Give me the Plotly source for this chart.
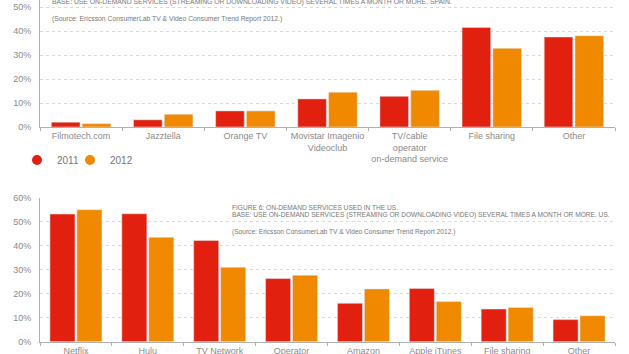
import plotly.graph_objects as go

# ---- data ----
spain_categories = ["Filmotech.com", "Jazztella", "Orange TV", "Movistar Imagenio<br>Videoclub",
                    "TV/cable<br>operator<br>on-demand service", "File sharing", "Other"]
spain_2011 = [2, 3, 6.7, 11.7, 12.8, 41.5, 37.5]
spain_2012 = [1.4, 5.3, 6.7, 14.5, 15.3, 32.8, 38]

us_categories = ["Netflix", "Hulu", "TV Network", "Operator", "Amazon", "Apple iTunes",
                 "File sharing", "Other"]
us_2011 = [53.2, 53.3, 42.2, 26.3, 16, 22.2, 13.6, 9.2]
us_2012 = [55, 43.5, 31, 27.7, 22, 16.7, 14.3, 10.8]

series_names = ["2011", "2012"]
y_ticks = [0, 10, 20, 30, 40, 50, 60]
y_tick_labels = ["0%", "10%", "20%", "30%", "40%", "50%", "60%"]

RED = "#E2200F"
ORANGE = "#F08800"
GRAY = "#8a8a8a"
FONT = "Liberation Sans"

W, H = 629, 354
ML, MR = 40, 14

fig = go.Figure()
fig.add_trace(go.Bar(x=spain_categories, y=spain_2011, marker_color=RED, name=series_names[0],
                     xaxis="x", yaxis="y", showlegend=False))
fig.add_trace(go.Bar(x=spain_categories, y=spain_2012, marker_color=ORANGE, name=series_names[1],
                     xaxis="x", yaxis="y", showlegend=False))
fig.add_trace(go.Bar(x=us_categories, y=us_2011, marker_color=RED, name=series_names[0],
                     xaxis="x2", yaxis="y2", showlegend=False))
fig.add_trace(go.Bar(x=us_categories, y=us_2012, marker_color=ORANGE, name=series_names[1],
                     xaxis="x2", yaxis="y2", showlegend=False))
# legend entries with round markers (one legend box per entry for exact placement)
for nm, c, lg in zip(series_names, [RED, ORANGE], ["legend", "legend2"]):
    fig.add_trace(go.Scatter(x=[None], y=[None], mode="markers", name=nm,
                             marker=dict(color=c, size=10, symbol="circle"),
                             xaxis="x", yaxis="y", showlegend=True, legend=lg))

def py(px):
    return 1 - px / H

def px_x(px):
    return (px - ML) / (W - ML - MR)

yaxis_common = dict(
    tickvals=y_ticks, ticktext=y_tick_labels,
    tickfont=dict(family=FONT, size=9, color=GRAY),
    showgrid=True, gridcolor="#d9d9d9", griddash="dot", gridwidth=1,
    showline=True, linecolor="#b0b0b0", linewidth=1,
    zeroline=False, ticks="", ticklabelstandoff=6, fixedrange=True,
    automargin=False,
)
xaxis_common = dict(
    tickfont=dict(family=FONT, size=9, color=GRAY),
    showline=True, linecolor="#b0b0b0", linewidth=1,
    ticks="outside", tickson="boundaries", ticklen=3, tickcolor="#b0b0b0",
    showgrid=False, zeroline=False, fixedrange=True, tickangle=0,
    automargin=False,
)

legend_common = dict(orientation="h", xref="container", y=py(160), yref="container",
                     yanchor="middle", xanchor="left",
                     font=dict(family=FONT, size=10, color="#777777"),
                     itemwidth=30, bgcolor="rgba(0,0,0,0)")

fig.update_layout(
    width=W, height=H,
    margin=dict(l=ML, r=MR, t=0, b=0, autoexpand=False),
    paper_bgcolor="white", plot_bgcolor="white",
    barmode="group", bargap=0.25, bargroupgap=0.07,
    font=dict(family=FONT, color=GRAY),
    xaxis=dict(domain=[0, 1], anchor="y", **xaxis_common),
    yaxis=dict(domain=[py(127), 1], range=[0, 127 / 2.4], anchor="x", **yaxis_common),
    xaxis2=dict(domain=[0, 1], anchor="y2", **xaxis_common),
    yaxis2=dict(domain=[py(341.7), py(197.7)], range=[0, 60], anchor="x2", **yaxis_common),
    showlegend=True,
    legend=dict(x=17 / W, **legend_common),
    legend2=dict(x=70 / W, **legend_common),
)

notes = [
    (50, 2, 6.8, "BASE: USE ON-DEMAND SERVICES (STREAMING OR DOWNLOADING VIDEO) SEVERAL TIMES A MONTH OR MORE. SPAIN."),
    (50, 19, 6.8, "(Source: Ericsson ConsumerLab TV & Video Consumer Trend Report 2012.)"),
    (230, 207, 6.6, "FIGURE 6: ON-DEMAND SERVICES USED IN THE US."),
    (230, 215, 6.6, "BASE: USE ON-DEMAND SERVICES (STREAMING OR DOWNLOADING VIDEO) SEVERAL TIMES A MONTH OR MORE. US."),
    (230, 232, 6.6, "(Source: Ericsson ConsumerLab TV & Video Consumer Trend Report 2012.)"),
]
for x, y, s, t in notes:
    fig.add_annotation(x=px_x(x), y=py(y), xref="paper", yref="paper", text=t,
                       showarrow=False, xanchor="left", yanchor="middle",
                       font=dict(family=FONT, size=s, color="#777777"))

fig.write_html("out.html")
